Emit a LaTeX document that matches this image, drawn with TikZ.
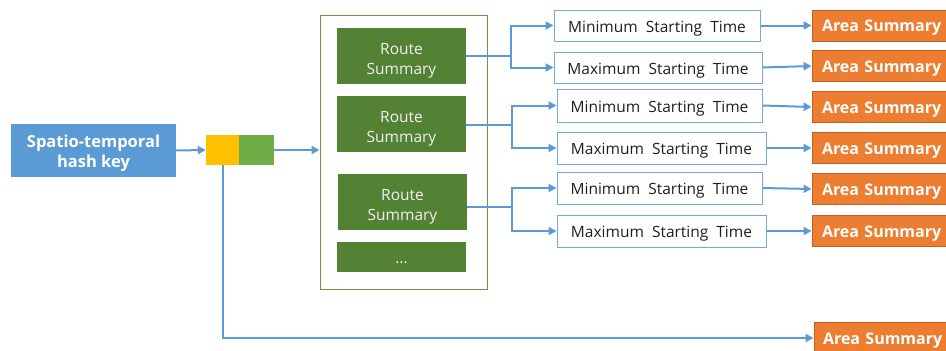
\documentclass[tikz,border=0pt]{standalone}
\usepackage{fontspec}
\setmainfont{Open Sans}
\usetikzlibrary{arrows.meta}
\definecolor{keyblue}{HTML}{5B9BD5}
\definecolor{linkblue}{HTML}{5B9BD5}
\definecolor{slotyellow}{HTML}{FFC000}
\definecolor{slotgreen}{HTML}{70AD47}
\definecolor{routegreen}{HTML}{548235}
\definecolor{framegreen}{HTML}{6A9A45}
\definecolor{areaorange}{HTML}{ED7D31}
\definecolor{areaedge}{HTML}{C2611F}
\tikzset{
  x=1pt, y=-1pt,
  keybox/.style={fill=keyblue, text=white, font=\fontsize{16.5}{20}\selectfont\bfseries, align=center,
    minimum width=165pt, minimum height=53pt, inner sep=0pt, text height=33pt, text depth=0pt},
  slot/.style={minimum height=30pt, inner sep=0pt},
  frame/.style={draw=framegreen, line width=1pt, minimum width=167pt, minimum height=274pt, inner sep=0pt},
  routebox/.style={fill=routegreen, text=white!94!black, font=\fontsize{15.5}{20}\selectfont, align=center,
    minimum width=129pt, minimum height=56pt, inner sep=0pt, text height=36pt, text depth=0pt},
  timebox/.style={draw=linkblue!85!white, line width=1pt, fill=white, text=black!88,
    font=\fontsize{15.5}{17}\selectfont, minimum height=31pt, inner sep=0pt,
    text height=13.5pt, text depth=0pt},
  areabox/.style={fill=areaorange, draw=areaedge, line width=0.8pt, text=white,
    font=\fontsize{16}{18}\selectfont\bfseries, minimum width=136pt, minimum height=31pt,
    inner sep=0pt, text width=136pt, align=left, text height=12.5pt, text depth=0pt},
  link/.style={draw=linkblue, line width=2pt, -{Triangle[length=8pt,width=8pt]}},
  linkplain/.style={draw=linkblue, line width=2pt},
}
\begin{document}
\begin{tikzpicture}
\useasboundingbox (0,0) rectangle (946,351);

% key and its two halves
\node[keybox] (key) at (93.5,150.5) {Spatio-temporal\\hash key};
\node[slot, fill=slotyellow, minimum width=33pt] (yel) at (222.5,150) {};
\node[slot, fill=slotgreen, minimum width=35pt] (grn) at (256.5,150) {};

% container of route summaries
\node[frame] (cont) at (403.5,152) {};
\node[routebox] (rs1) at (401.5,56) {Route\\Summary};
\node[routebox] (rs2) at (401.5,124) {Route\\Summary};
\node[routebox] (rs3) at (402.5,202) {Route\\Summary};
\node[routebox, minimum height=30pt, text height=13pt] (more) at (401.5,257) {...};

% starting time entries
\node[timebox, minimum width=206pt] (min1) at (657,25.5) {Minimum\ \ Starting\ \ Time};
\node[timebox, minimum width=208pt] (max1) at (658,67.5) {Maximum\ \ Starting\ \ Time};
\node[timebox, minimum width=205pt, minimum height=33pt] (min2) at (659.5,105.5) {Minimum\ \ Starting\ \ Time};
\node[timebox, minimum width=209pt, minimum height=32pt] (max2) at (661.5,148) {Maximum\ \ Starting\ \ Time};
\node[timebox, minimum width=205pt, minimum height=32pt] (min3) at (659.5,188) {Minimum\ \ Starting\ \ Time};
\node[timebox, minimum width=209pt, minimum height=32pt] (max3) at (661.5,231) {Maximum\ \ Starting\ \ Time};

% area summaries
\node[areabox] (as1) at (880,25.5) {\hspace{10pt}Area Summary};
\node[areabox] (as2) at (880,66) {\hspace{10pt}Area Summary};
\node[areabox] (as3) at (880,107) {\hspace{10pt}Area Summary};
\node[areabox] (as4) at (880,148) {\hspace{10pt}Area Summary};
\node[areabox] (as5) at (880,189) {\hspace{10pt}Area Summary};
\node[areabox] (as6) at (880,231) {\hspace{10pt}Area Summary};
\node[areabox, text width=134pt, minimum width=134pt, minimum height=32pt] (as7) at (881,338) {\hspace{9pt}Area Summary};

% branch points
\coordinate (b1) at (510.5,56);
\coordinate (b2) at (512,125);
\coordinate (b3) at (512,207);

% connectors
\draw[link] (key.east) -- (yel.west);
\draw[link] (grn.east) -- (grn.east -| cont.west);
\draw[link] (yel.south) |- (as7.west);

\draw[linkplain] (rs1.east) -- (b1);
\draw[link] (b1) |- (min1.west);
\draw[link] (b1) |- (max1.west);
\draw[linkplain] (rs2.east |- b2) -- (b2);
\draw[link] (b2) |- (min2.west);
\draw[link] (b2) |- (max2.west);
\draw[linkplain] (rs3.east |- b3) -- (b3);
\draw[link] (b3) |- (min3.west);
\draw[link] (b3) |- (max3.west);

\draw[link] (min1.east) -- (as1.west);
\draw[link] (max1.east) -- (as2.west);
\draw[link] (min2.east) -- (as3.west);
\draw[link] (max2.east) -- (as4.west);
\draw[link] (min3.east) -- (as5.west);
\draw[link] (max3.east) -- (as6.west);
\end{tikzpicture}
\end{document}
